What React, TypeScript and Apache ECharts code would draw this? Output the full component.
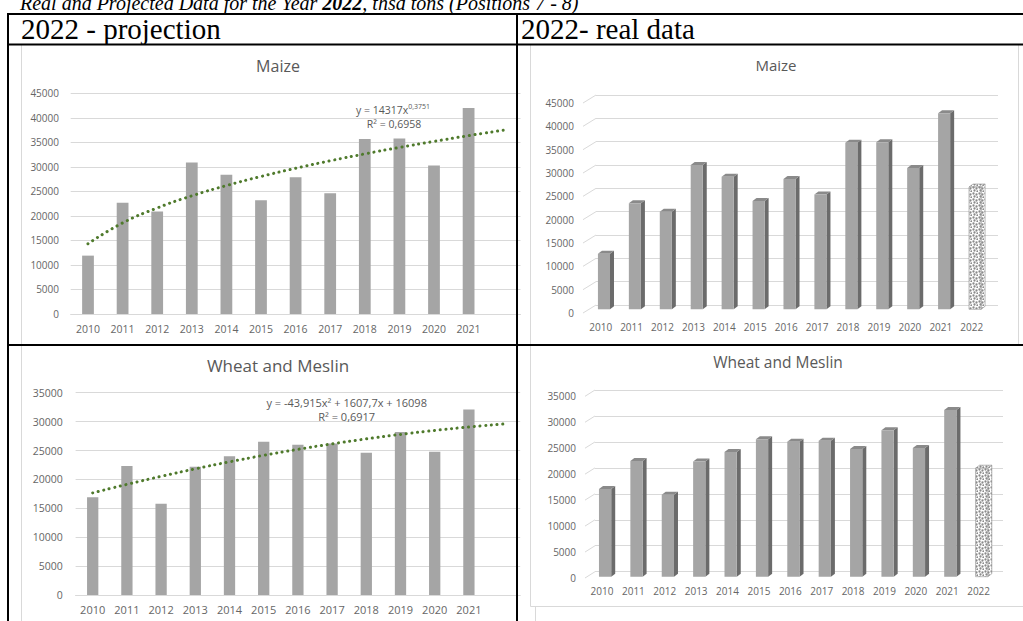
import React, { useEffect, useRef } from 'react';
import * as echarts from 'echarts';

// ---------- data ----------
const years = ['2010', '2011', '2012', '2013', '2014', '2015', '2016', '2017', '2018', '2019', '2020', '2021'];
const projectedYear = '2022';
const yearsWithProjection = [...years, projectedYear];
// left charts have an empty 13th slot used by the forward forecast of the trendline
const leftCategories = [...years, ''];

const maizeValues = [11900, 22700, 20900, 30900, 28400, 23200, 27900, 24600, 35700, 35800, 30300, 42000];
const maizeProjection = 26200;
const maizeTrend = [14317, 18569, 21619, 24085, 26184, 28040, 29708, 31238, 32644, 33962, 35194, 36370, 37471];
const maizeTicks = [0, 5000, 10000, 15000, 20000, 25000, 30000, 35000, 40000, 45000];

const wheatValues = [16900, 22300, 15800, 22200, 24000, 26500, 26000, 26200, 24600, 28200, 24800, 32100];
const wheatProjection = 20900;
const wheatTrend = [17662, 19138, 20526, 21826, 23039, 24163, 25200, 26149, 27010, 27784, 28469, 29067, 29577];
const wheatTicks = [0, 5000, 10000, 15000, 20000, 25000, 30000, 35000];

const maizeEquation = ['y = 14317x', '0,3751', 'R² = 0,6958'];
const wheatEquation = ['y = -43,915x² + 1607,7x + 16098', 'R² = 0,6917'];

// ---------- styles ----------
const FONT = 'Open Sans';
const TXT = '#666666';
const GRIDC = '#d9d9d9';
const BAR = '#a5a5a5';
const TREND = '#4f7a2c';

function makePattern() {
  const c = document.createElement('canvas');
  c.width = 6;
  c.height = 6;
  const g = c.getContext('2d');
  if (g) {
    g.fillStyle = '#ffffff';
    g.fillRect(0, 0, 6, 6);
    g.fillStyle = '#8a8a8a';
    [[1, 1], [4, 2], [2, 4], [5, 5]].forEach(([x, y]) => {
      g.beginPath();
      g.arc(x + 0.5, y + 0.5, 1.15, 0, Math.PI * 2);
      g.fill();
    });
  }
  return { image: c, repeat: 'repeat', imageWidth: 6, imageHeight: 6 };
}

function diagRenderer(ddx: number, ddy: number) {
  return (params: any, api: any) => {
    const v = api.value(1);
    const p = api.coord([0, v]);
    const x0 = params.coordSys.x;
    return {
      type: 'line',
      shape: { x1: x0 + ddx, y1: p[1] + ddy, x2: x0, y2: p[1] },
      style: { stroke: GRIDC, lineWidth: 1 },
      silent: true,
    };
  };
}

function bar3dRenderer(dx: number, dy: number, pattern: any) {
  return (params: any, api: any) => {
    const i = api.value(0);
    const v = api.value(1);
    const top = api.coord([i, v]);
    const base = api.coord([i, 0]);
    const band = api.size([1, 0])[0];
    const w = band * 0.39;
    const cx = top[0] + dx;
    const yT = top[1] + dy;
    const yB = base[1] + dy;
    const x0 = cx - w / 2;
    const x1 = cx + w / 2;
    const ox = 4;
    const oy = -3;
    const projected = yearsWithProjection[i] === projectedYear;
    const frontFill = projected ? pattern : BAR;
    const sideFill = projected ? pattern : '#6b6b6b';
    const topFill = projected ? pattern : '#8a8a8a';
    const stroke = projected ? '#8f8f8f' : undefined;
    return {
      type: 'group',
      children: [
        {
          type: 'polygon',
          shape: { points: [[x1, yT], [x1 + ox, yT + oy], [x1 + ox, yB + oy], [x1, yB]] },
          style: { fill: sideFill, stroke, lineWidth: 0.6 },
        },
        {
          type: 'polygon',
          shape: { points: [[x0, yT], [x0 + ox, yT + oy], [x1 + ox, yT + oy], [x1, yT]] },
          style: { fill: topFill, stroke, lineWidth: 0.6 },
        },
        {
          type: 'rect',
          shape: { x: x0, y: yT, width: w, height: yB - yT },
          style: { fill: frontFill, stroke, lineWidth: 0.6 },
        },
      ],
    };
  };
}

function buildOption() {
  const pattern = makePattern();

  const leftX = (gridIndex: number, fontSize: number, margin: number) => ({
    type: 'category',
    gridIndex,
    data: leftCategories,
    boundaryGap: true,
    axisLine: { show: true, lineStyle: { color: GRIDC, width: 1 } },
    axisTick: { show: false },
    axisLabel: { interval: 0, fontSize, color: TXT, fontFamily: FONT, margin },
  });
  const rightX = (gridIndex: number, margin: number, shift: number) => ({
    type: 'category',
    gridIndex,
    data: yearsWithProjection,
    boundaryGap: true,
    axisLine: { show: false },
    axisTick: { show: false },
    axisLabel: {
      interval: 0,
      fontSize: 10,
      color: TXT,
      fontFamily: FONT,
      margin,
      padding: [0, shift * 2, 0, 0],
    },
  });
  const valY = (gridIndex: number, max: number, fontSize: number, margin: number, down: number) => ({
    type: 'value',
    gridIndex,
    min: 0,
    max,
    interval: 5000,
    axisLine: { show: false },
    axisTick: { show: false },
    splitLine: { show: true, lineStyle: { color: GRIDC, width: 1 } },
    axisLabel: {
      fontSize,
      color: TXT,
      fontFamily: FONT,
      margin,
      formatter: (v: number) => String(v),
      ...(down > 0 ? { verticalAlign: 'top', lineHeight: down * 2 } : {}),
    },
  });

  const titleStyle = (size: number) => ({ fontSize: size, color: '#595959', fontFamily: FONT, fontWeight: 'normal' });

  const eqStyle = (size: number) => ({ fontSize: size, fontFamily: FONT, fill: '#595959', color: '#595959' });

  const line = (x1: number, y1: number, x2: number, y2: number, color: string, width: number, z = 100) => ({
    type: 'line',
    z,
    silent: true,
    shape: { x1, y1, x2, y2 },
    style: { stroke: color, lineWidth: width },
  });

  return {
    animation: false,
    backgroundColor: '#ffffff',
    textStyle: { fontFamily: FONT },
    title: [
      { text: 'Maize', left: 278, top: 58, textAlign: 'center', padding: 0, textStyle: titleStyle(16) },
      { text: 'Maize', left: 776, top: 57, textAlign: 'center', padding: 0, textStyle: titleStyle(15) },
      { text: 'Wheat and Meslin', left: 278, top: 357, textAlign: 'center', padding: 0, textStyle: titleStyle(17) },
      { text: 'Wheat and Meslin', left: 778, top: 354, textAlign: 'center', padding: 0, textStyle: titleStyle(15.5) },
    ],
    grid: [
      { left: 70.7, top: 93.3, width: 449.8, height: 220.7, containLabel: false },
      { left: 75.6, top: 392.7, width: 444.6, height: 202.3, containLabel: false },
      { left: 596, top: 95, width: 402, height: 210, containLabel: false },
      { left: 595, top: 390, width: 408, height: 181.7, containLabel: false },
    ],
    xAxis: [leftX(0, 10.5, 9.5), leftX(1, 11, 8.5), rightX(2, 16.7, 10.8), rightX(3, 14.3, 8.7)],
    yAxis: [
      valY(0, 45000, 10, 11.7, 0),
      valY(1, 35000, 10.5, 12.9, 0),
      valY(2, 45000, 10, 22, 8),
      valY(3, 35000, 10, 19, 6.3),
    ],
    series: [
      {
        name: 'Maize',
        type: 'bar',
        xAxisIndex: 0,
        yAxisIndex: 0,
        data: maizeValues,
        barWidth: '34%',
        itemStyle: { color: BAR },
      },
      {
        name: 'Maize trend',
        type: 'line',
        xAxisIndex: 0,
        yAxisIndex: 0,
        data: maizeTrend,
        symbol: 'none',
        smooth: true,
        z: 5,
        lineStyle: { color: TREND, width: 3, type: [0.1, 5.6], cap: 'round' },
      },
      {
        name: 'Wheat and Meslin',
        type: 'bar',
        xAxisIndex: 1,
        yAxisIndex: 1,
        data: wheatValues,
        barWidth: '33%',
        itemStyle: { color: BAR },
      },
      {
        name: 'Wheat trend',
        type: 'line',
        xAxisIndex: 1,
        yAxisIndex: 1,
        data: wheatTrend,
        symbol: 'none',
        smooth: true,
        z: 5,
        lineStyle: { color: TREND, width: 3, type: [0.1, 5.6], cap: 'round' },
      },
      {
        type: 'custom',
        xAxisIndex: 2,
        yAxisIndex: 2,
        data: maizeTicks.map((t) => [0, t]),
        encode: { x: 0, y: 1 },
        renderItem: diagRenderer(-13, 8),
        silent: true,
        z: 1,
      },
      {
        name: 'Maize real',
        type: 'custom',
        xAxisIndex: 2,
        yAxisIndex: 2,
        data: [...maizeValues, maizeProjection].map((v, i) => [i, v]),
        encode: { x: 0, y: 1 },
        renderItem: bar3dRenderer(-7.5, 4.3, pattern),
        z: 3,
      },
      {
        type: 'custom',
        xAxisIndex: 3,
        yAxisIndex: 3,
        data: wheatTicks.map((t) => [0, t]),
        encode: { x: 0, y: 1 },
        renderItem: diagRenderer(-10, 6.3),
        silent: true,
        z: 1,
      },
      {
        name: 'Wheat real',
        type: 'custom',
        xAxisIndex: 3,
        yAxisIndex: 3,
        data: [...wheatValues, wheatProjection].map((v, i) => [i, v]),
        encode: { x: 0, y: 1 },
        renderItem: bar3dRenderer(-5.6, 5, pattern),
        z: 3,
      },
    ],
    graphic: {
      elements: [
        // page caption (cut by the top edge, as in the source)
        {
          type: 'text',
          x: 20,
          y: 3,
          z: 100,
          style: {
            text: '{a|Real and Projected Data for the Year }{b|2022}{a|, thsd tons (Positions 7 - 8)}',
            rich: {
              a: { fontFamily: 'Liberation Serif', fontStyle: 'italic', fontSize: 20, fill: '#000', color: '#000' },
              b: { fontFamily: 'Liberation Serif', fontStyle: 'italic', fontWeight: 'bold', fontSize: 20, fill: '#000', color: '#000' },
            },
            align: 'left',
            verticalAlign: 'middle',
            textAlign: 'left',
            textVerticalAlign: 'middle',
          },
        },
        // table header texts
        {
          type: 'text',
          x: 21,
          y: 28.5,
          z: 100,
          style: {
            text: '2022 - projection',
            font: '29px "Liberation Serif"',
            fill: '#000',
            align: 'left',
            verticalAlign: 'middle',
            textAlign: 'left',
            textVerticalAlign: 'middle',
          },
        },
        {
          type: 'text',
          x: 521,
          y: 28.5,
          z: 100,
          style: {
            text: '2022- real data',
            font: '29px "Liberation Serif"',
            fill: '#000',
            align: 'left',
            verticalAlign: 'middle',
            textAlign: 'left',
            textVerticalAlign: 'middle',
          },
        },
        // chart frames (light)
        line(21.5, 45, 21.5, 621, GRIDC, 1, 10),
        line(530.5, 45, 530.5, 606.5, GRIDC, 1, 10),
        line(1018.5, 45, 1018.5, 344, GRIDC, 1, 10),
        line(530.5, 606.5, 1023, 606.5, GRIDC, 1, 10),
        line(535.5, 607, 535.5, 621, GRIDC, 1, 10),
        // table borders
        line(7, 14, 1023, 14, '#000', 2),
        line(7, 44.5, 1023, 44.5, '#000', 2),
        line(7, 345, 1023, 345, '#000', 2),
        line(8, 13, 8, 621, '#000', 2),
        line(517, 13, 517, 621, '#000', 2),
        // trendline equations
        {
          type: 'text',
          x: 393,
          y: 110,
          z: 50,
          style: {
            text: `{n|${maizeEquation[0]}}{s|${maizeEquation[1]}}`,
            rich: {
              n: eqStyle(10.5),
              s: { ...eqStyle(7), padding: [0, 0, 8, 0] },
            },
            align: 'center',
            verticalAlign: 'middle',
            textAlign: 'center',
            textVerticalAlign: 'middle',
          },
        },
        {
          type: 'text',
          x: 394,
          y: 124,
          z: 50,
          style: {
            text: maizeEquation[2],
            font: `10.5px "${FONT}"`,
            fill: '#595959',
            align: 'center',
            verticalAlign: 'middle',
            textAlign: 'center',
            textVerticalAlign: 'middle',
          },
        },
        {
          type: 'text',
          x: 346.7,
          y: 402.7,
          z: 50,
          style: {
            text: wheatEquation[0],
            font: `11px "${FONT}"`,
            fill: '#595959',
            align: 'center',
            verticalAlign: 'middle',
            textAlign: 'center',
            textVerticalAlign: 'middle',
          },
        },
        {
          type: 'text',
          x: 346.7,
          y: 416.7,
          z: 50,
          style: {
            text: wheatEquation[1],
            font: `11px "${FONT}"`,
            fill: '#595959',
            align: 'center',
            verticalAlign: 'middle',
            textAlign: 'center',
            textVerticalAlign: 'middle',
          },
        },
      ],
    },
  };
}

export default function App() {
  const ref = useRef<HTMLDivElement>(null);
  useEffect(() => {
    if (!ref.current) return;
    const chart = echarts.init(ref.current, undefined, { renderer: 'svg' });
    chart.setOption(buildOption() as any);
    return () => {
      chart.dispose();
    };
  }, []);
  return (
    <div
      ref={ref}
      style={{ position: 'absolute', left: 0, top: 0, width: 1023, height: 621, background: '#fff' }}
    />
  );
}
